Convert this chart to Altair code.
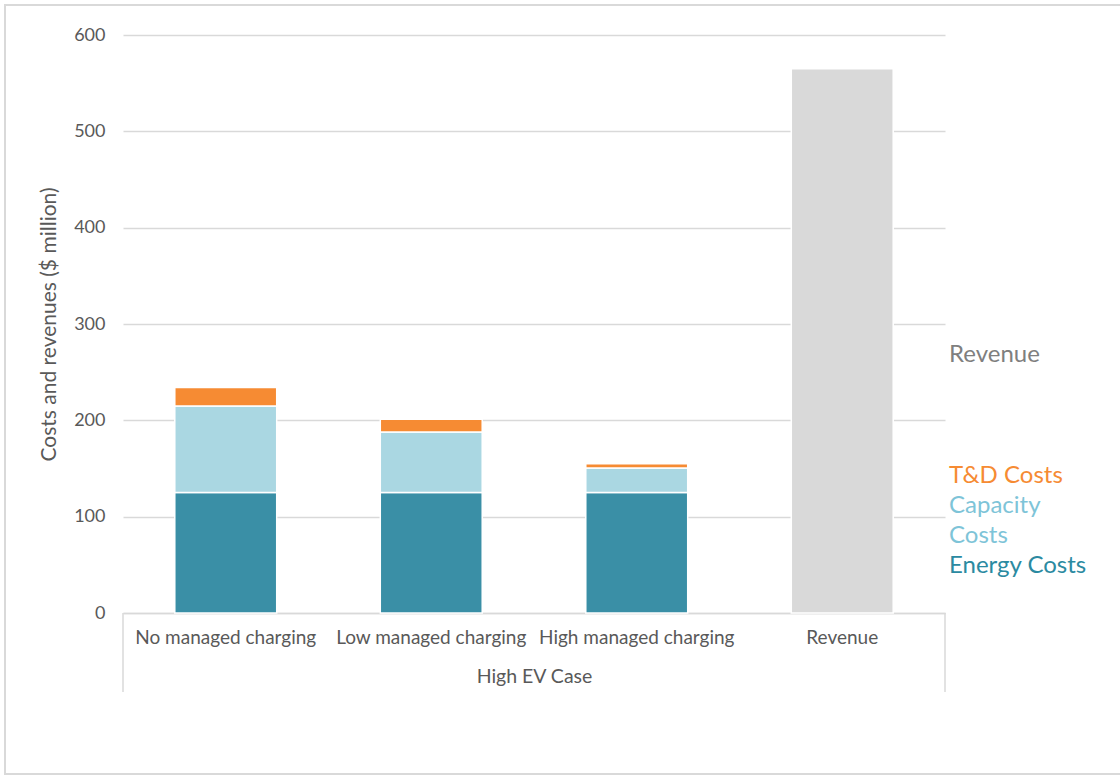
import altair as alt
import pandas as pd

categories = ["No managed charging", "Low managed charging", "High managed charging", "Revenue"]
energy_costs = [125, 125, 125, 0]
capacity_costs = [90, 63, 25.5, 0]
td_costs = [19, 13, 4.5, 0]
revenue = [0, 0, 0, 565]

components = ["Energy Costs", "Capacity Costs", "T&D Costs", "Revenue"]
comp_colors = ["#3A8FA6", "#AAD7E2", "#F68B33", "#D9D9D9"]

rows = []
for i, c in enumerate(categories):
    for k, (name, vals) in enumerate(zip(components, [energy_costs, capacity_costs, td_costs, revenue])):
        if vals[i] > 0:
            rows.append({"category": c, "component": name, "value": vals[i], "order": k})
df = pd.DataFrame(rows)

FONT = "Lato"
W, H = 822, 578

yscale = alt.Scale(domain=[0, 600])

bars = alt.Chart(df).mark_bar(stroke="white", strokeWidth=1.5).encode(
    x=alt.X("category:N", sort=categories,
            scale=alt.Scale(paddingInner=0.504, paddingOuter=0.252),
            axis=alt.Axis(title="High EV Case", labelAngle=0, labelFontSize=19,
                          labelColor="#595959", labelFont=FONT, ticks=False,
                          labelLimit=0, labelOverlap=False, grid=False,
                          domainColor="#D9D9D9", domainWidth=1.5, labelPadding=15,
                          titleFont=FONT, titleFontSize=19.5, titleColor="#595959",
                          titleFontWeight="normal", titlePadding=20)),
    y=alt.Y("value:Q", stack="zero", scale=yscale,
            axis=alt.Axis(title="Costs and revenues ($ million)", values=[0, 100, 200, 300, 400, 500, 600],
                          domain=False, ticks=False, labelPadding=18, labelFontSize=18,
                          labelColor="#595959", labelFont=FONT, gridColor="#D9D9D9",
                          gridWidth=1.5, titleFont=FONT, titleFontSize=21,
                          titleColor="#595959", titleFontWeight="normal", titlePadding=14)),
    color=alt.Color("component:N", scale=alt.Scale(domain=components, range=comp_colors), legend=None),
    order=alt.Order("order:Q"),
)

one = pd.DataFrame({"a": [0]})
bracket_depth = 82  # in axis units below zero (about 79 px)

brackets = []
for xv in [0, W]:
    brackets.append(alt.Chart(one).mark_rule(color="#D9D9D9", strokeWidth=1.5, clip=False).encode(
        x=alt.value(xv),
        y=alt.datum(0, scale=yscale),
        y2=alt.datum(-bracket_depth),
    ))

border = alt.Chart(one).mark_rect(filled=False, stroke="#D9D9D9", strokeWidth=2).encode(
    x=alt.value(-118), x2=alt.value(1100), y=alt.value(-30), y2=alt.value(739)
)

legend_labels = ["Revenue", "T&D Costs", "Capacity", "Costs", "Energy Costs"]
legend_colors = ["#7F7F7F", "#F68B33", "#7EC4D8", "#7EC4D8", "#2B8AA1"]
legend_y = [320, 441, 471, 501, 531]

texts = []
for lab, col, yy in zip(legend_labels, legend_colors, legend_y):
    texts.append(alt.Chart(pd.DataFrame({"t": [lab]})).mark_text(
        align="left", baseline="middle", font=FONT, fontSize=24, color=col
    ).encode(text="t:N", x=alt.value(826), y=alt.value(yy)))

chart = alt.layer(border, bars, *brackets, *texts).properties(
    width=W, height=H,
    autosize=alt.AutoSizeParams(type="none"),
    padding={"left": 123, "top": 35, "right": 175, "bottom": 163},
).configure(background="white").configure_view(strokeWidth=0, stroke="transparent")

chart.save("out.html", embed_options={"renderer": "svg", "actions": False})
